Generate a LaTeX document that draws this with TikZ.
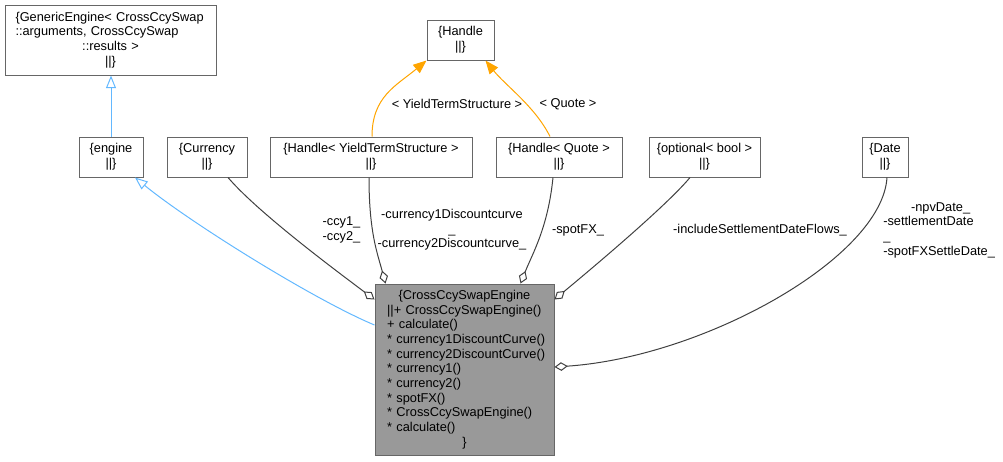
\documentclass[tikz,border=0pt]{standalone}
\usepackage{fontspec}
\setmainfont{Liberation Sans}
\usetikzlibrary{arrows.meta}
\definecolor{boxStroke}{RGB}{102,102,102}
\definecolor{mainFill}{RGB}{153,153,153}
\definecolor{usesLine}{RGB}{64,64,64}
\definecolor{baseLine}{RGB}{99,184,255}
\definecolor{tmplLine}{RGB}{255,165,0}
\newcommand{\umlfont}{\fontsize{9.6}{11}\selectfont\hyphenpenalty=10000\exhyphenpenalty=10000}
\newcommand{\midline}[1]{\noindent\hbox to \hsize{\hfil#1\hfil}}

\begin{document}
\begin{tikzpicture}[
  x=0.75pt,
  y=-0.75pt,
  umlBox/.style={draw=boxStroke, line width=0.75pt, fill=white, align=center, inner sep=0pt, font=\umlfont},
  mainBox/.style={umlBox, fill=mainFill, align=left},
  edgeLabel/.style={font=\umlfont, align=center, inner sep=0pt},
  baseEdge/.style={draw=baseLine, line width=0.75pt, -{Triangle[open, length=9.5pt, width=7.5pt]}},
  usesEdge/.style={draw=usesLine, line width=0.75pt, -{Diamond[open, length=10pt, width=6.5pt]}},
  tmplEdge/.style={draw=tmplLine, line width=0.75pt, -{Triangle[length=10pt, width=8pt]}}
]
  \def\px{0.75pt}
  \useasboundingbox (0,0) rectangle (1003,461);

  \node[umlBox, minimum width=211*\px, minimum height=70*\px, text width=142.5pt, align=left] (genericEngine) at (110.5,40)
    {\{GenericEngine<~CrossCcySwap\\::arguments,~CrossCcySwap\\\midline{::results >}\\\midline{||\}}};
  \node[umlBox, minimum width=67*\px, minimum height=40*\px] (handle) at (460.5,40) {\{Handle\\||\}};

  \node[umlBox, minimum width=64*\px, minimum height=40*\px] (engine) at (111,157) {\{engine\\||\}};
  \node[umlBox, minimum width=80*\px, minimum height=40*\px] (currency) at (207,157) {\{Currency\\||\}};
  \node[umlBox, minimum width=202*\px, minimum height=40*\px] (hyts) at (371,157) {\{Handle< YieldTermStructure >\\||\}};
  \node[umlBox, minimum width=126*\px, minimum height=40*\px] (hquote) at (559,157) {\{Handle< Quote >\\||\}};
  \node[umlBox, minimum width=111*\px, minimum height=40*\px] (optional) at (704.5,157) {\{optional< bool >\\||\}};
  \node[umlBox, minimum width=46*\px, minimum height=40*\px] (date) at (885,157) {\{Date\\||\}};

  \node[mainBox, minimum width=179*\px, minimum height=171*\px, text width=116pt] (main) at (464.5,369.5)
    {\midline{\{CrossCcySwapEngine}\\
     ||+~CrossCcySwapEngine()\\
     +~calculate()\\
     {*}~currency1DiscountCurve()\\
     {*}~currency2DiscountCurve()\\
     {*}~currency1()\\
     {*}~currency2()\\
     {*}~spotFX()\\
     {*}~CrossCcySwapEngine()\\
     {*}~calculate()\\
     \midline{\}}};

  \draw[baseEdge] (engine.north) -- (engine.north |- genericEngine.south);
  \draw[baseEdge] ([yshift=44.5*\px]main.west) .. controls +(-60,-25) and +(55,45) .. ([xshift=24*\px]engine.south);

  \draw[tmplEdge] ([xshift=1*\px]hyts.north) .. controls +(0,-40) and +(-30,25) .. (handle.south west);
  \draw[tmplEdge] ([xshift=-9*\px]hquote.north) .. controls +(-15,-30) and +(20,25) .. ([xshift=25*\px]handle.south);
  \node[edgeLabel] (ytsLabel) at (457,104) {< YieldTermStructure >};
  \node[edgeLabel] (quoteLabel) at (568,104) {< Quote >};

  \draw[usesEdge] ([xshift=21*\px]currency.south) .. controls +(30,35) and +(-40,-30) .. ([yshift=-16*\px]main.north west);
  \draw[usesEdge] ([xshift=-2*\px]hyts.south) .. controls +(0,55) and +(-8,-30) .. ([xshift=11*\px]main.north west);
  \draw[usesEdge] ([xshift=-6*\px]hquote.south) .. controls +(-5,50) and +(12,-30) .. ([xshift=-34*\px]main.north east);
  \draw[usesEdge] ([xshift=-14.5*\px]optional.south) .. controls +(-25,30) and +(30,-25) .. ([yshift=-16*\px]main.north east);
  \draw[usesEdge] ([xshift=2*\px]date.south) .. controls +(-5,80) and +(150,-10) .. ([yshift=2.5*\px]main.east);

  \node[edgeLabel] (ccyLabel) at (341.5,230) {-ccy1\_\\-ccy2\_};
  \node[edgeLabel] (curveLabel) at (452,230) {-currency1Discountcurve\\\_\\-currency2Discountcurve\_};
  \node[edgeLabel] (spotLabel) at (578,230) {-spotFX\_};
  \node[edgeLabel] (flowsLabel) at (760,230) {-includeSettlementDateFlows\_};
  \node[edgeLabel, text width=86pt, align=left, anchor=west] (dateLabel) at (883,230)
    {\midline{-npvDate\_}\\-settlementDate\\\_\\-spotFXSettleDate\_};
\end{tikzpicture}
\end{document}
